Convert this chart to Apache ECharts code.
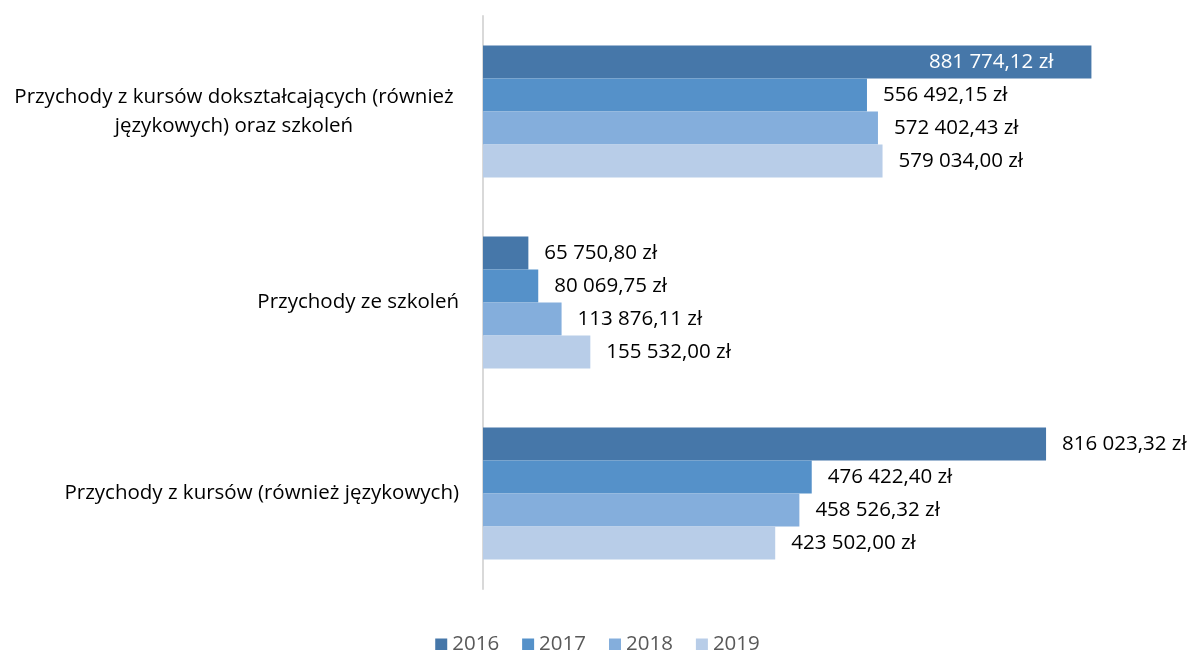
<!DOCTYPE html>
<html><head><meta charset="utf-8">
<script src="https://cdn.jsdelivr.net/npm/echarts@6/dist/echarts.min.js"></script>
<style>html,body{margin:0;padding:0;background:#fff}#c{width:1195px;height:650px}</style>
</head><body><div id="c"></div>
<script>
const categories = [
  'Przychody z kursów dokształcających (również językowych) oraz szkoleń',
  'Przychody ze szkoleń',
  'Przychody z kursów (również językowych)'
];
const years = ['2016', '2017', '2018', '2019'];
const v2016 = [881774.12, 65750.80, 816023.32];
const v2017 = [556492.15, 80069.75, 476422.40];
const v2018 = [572402.43, 113876.11, 458526.32];
const v2019 = [579034.00, 155532.00, 423502.00];
const seriesValues = [v2016, v2017, v2018, v2019];
const colors = ['#4677A9', '#5591C9', '#84AEDC', '#B8CDE8'];

const FONT = 'Open Sans';
const FS = 20.5;
function fmt(v) {
  const parts = v.toFixed(2).split('.');
  const intPart = parts[0].replace(/\B(?=(\d{3})+(?!\d))/g, ' ');
  return intPart + ',' + parts[1] + ' zł';
}

const series = years.map((y, si) => ({
  name: y,
  type: 'bar',
  barGap: '0%',
  barCategoryGap: '31%',
  itemStyle: { color: colors[si] },
  data: seriesValues[si].map((v, ci) => {
    const d = { value: v };
    if (si === 0 && ci === 0) {
      d.label = { position: 'insideRight', color: '#fff', distance: 38 };
    }
    return d;
  }),
  label: {
    show: true,
    position: 'right',
    distance: 16,
    fontFamily: FONT,
    fontSize: FS,
    color: '#000',
    formatter: p => fmt(p.value)
  }
}));

const chart = echarts.init(document.getElementById('c'));
chart.setOption({
  animation: false,
  textStyle: { fontFamily: FONT },
  color: colors,
  grid: { left: 483, right: 22, top: 16, bottom: 61, containLabel: false },
  legend: {
    data: years,
    left: 'center',
    top: 629,
    itemWidth: 12,
    itemHeight: 12,
    itemGap: 23,
    icon: 'rect',
    textStyle: { fontFamily: FONT, fontSize: FS, color: '#595959' }
  },
  xAxis: {
    type: 'value',
    min: 0,
    max: 1000000,
    show: false,
    splitLine: { show: false }
  },
  yAxis: {
    type: 'category',
    inverse: true,
    data: categories,
    axisLine: { show: true, lineStyle: { color: '#d9d9d9', width: 2 } },
    axisTick: { show: false },
    axisLabel: {
      margin: 24,
      fontFamily: FONT,
      fontSize: FS,
      color: '#000',
      align: 'right',
      lineHeight: 29,
      formatter: (v, i) => {
        if (i === 0) {
          return '{c|Przychody z kursów dokształcających (również}\n{c|językowych) oraz szkoleń}';
        }
        return v;
      },
      rich: {
        c: { width: 450, align: 'center', fontFamily: FONT, fontSize: FS, color: '#000', lineHeight: 29 }
      }
    }
  },
  series: series
});
</script>
</body></html>
